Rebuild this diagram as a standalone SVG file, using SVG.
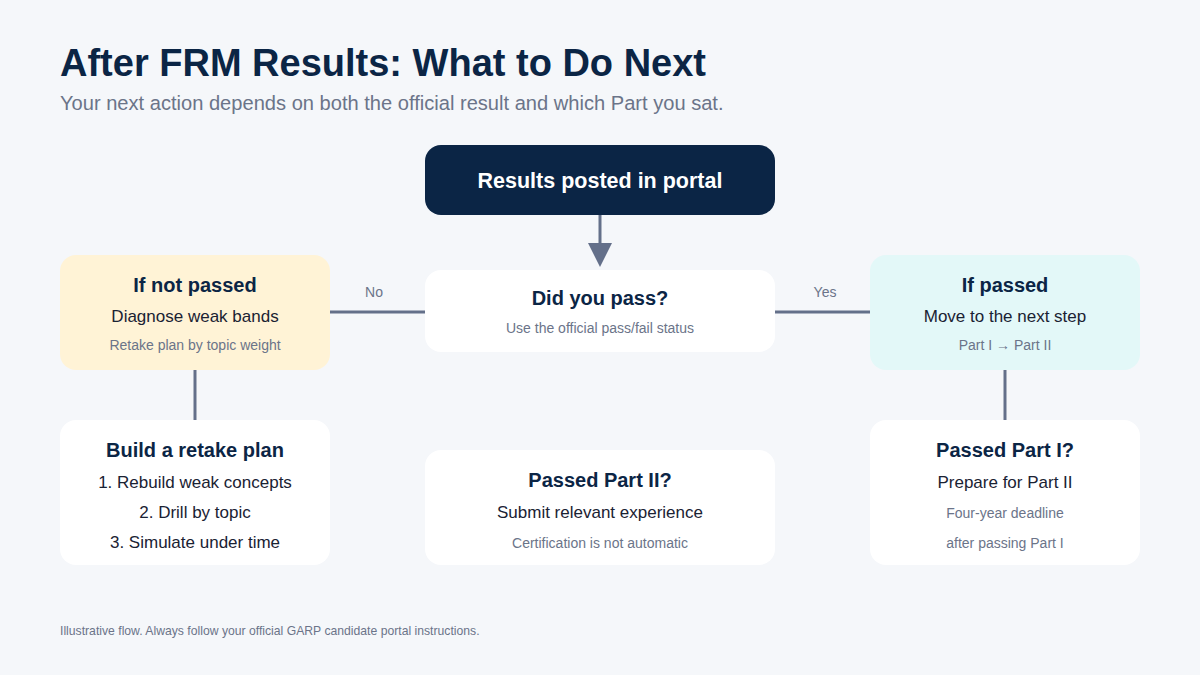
<svg xmlns="http://www.w3.org/2000/svg" width="1200" height="675" viewBox="0 0 1200 675">
<style>
text{font-family:"Liberation Sans",Arial,sans-serif;}
.t{font-size:38px;font-weight:bold;fill:#0B2545;}
.sub{font-size:20.1px;fill:#6B7489;}
.h{font-size:20px;font-weight:bold;fill:#0B2545;text-anchor:middle;}
.b{font-size:17px;fill:#1A2233;text-anchor:middle;}
.s{font-size:14px;fill:#6B7489;text-anchor:middle;}
.lbl{font-size:14px;fill:#6B7489;text-anchor:middle;}
.card{fill:#FFFFFF;}
.conn{stroke:#64708A;stroke-width:3;fill:none;}
.foot{font-size:12.2px;fill:#6B7489;}
</style>
<rect width="1200" height="675" fill="#F5F7FA"/>
<text class="t" x="60" y="76">After FRM Results: What to Do Next</text>
<text class="sub" x="60" y="110">Your next action depends on both the official result and which Part you sat.</text>
<g id="connectors">
<line class="conn" x1="600" y1="215" x2="600" y2="245"/>
<polygon points="588,243 612,243 600,267" fill="#64708A"/>
<line class="conn" x1="330" y1="312" x2="425" y2="312"/>
<text class="lbl" x="374" y="297">No</text>
<line class="conn" x1="775" y1="312" x2="870" y2="312"/>
<text class="lbl" x="825" y="297">Yes</text>
<line class="conn" x1="195" y1="370" x2="195" y2="420"/>
<line class="conn" x1="1005" y1="370" x2="1005" y2="420"/>
</g>
<g id="results">
<rect x="425" y="145" width="350" height="70" rx="16" fill="#0B2545"/>
<text x="600" y="188" font-size="21.5" font-weight="bold" fill="#FFFFFF" text-anchor="middle">Results posted in portal</text>
</g>
<g id="didpass">
<rect class="card" x="425" y="270" width="350" height="82" rx="16"/>
<text class="h" x="600" y="305">Did you pass?</text>
<text class="s" x="600" y="333">Use the official pass/fail status</text>
</g>
<g id="notpassed">
<rect x="60" y="255" width="270" height="115" rx="16" fill="#FFF3D6"/>
<text class="h" x="195" y="292">If not passed</text>
<text class="b" x="195" y="322">Diagnose weak bands</text>
<text class="s" x="195" y="350">Retake plan by topic weight</text>
</g>
<g id="passed">
<rect x="870" y="255" width="270" height="115" rx="16" fill="#E3F8F8"/>
<text class="h" x="1005" y="292">If passed</text>
<text class="b" x="1005" y="322">Move to the next step</text>
<text class="s" x="1005" y="350">Part I → Part II</text>
</g>
<g id="retake">
<rect class="card" x="60" y="420" width="270" height="145" rx="16"/>
<text class="h" x="195" y="457">Build a retake plan</text>
<text class="b" x="195" y="488">1. Rebuild weak concepts</text>
<text class="b" x="195" y="518">2. Drill by topic</text>
<text class="b" x="195" y="548">3. Simulate under time</text>
</g>
<g id="part2">
<rect class="card" x="425" y="450" width="350" height="115" rx="16"/>
<text class="h" x="600" y="487">Passed Part II?</text>
<text class="b" x="600" y="518">Submit relevant experience</text>
<text class="s" x="600" y="548">Certification is not automatic</text>
</g>
<g id="part1">
<rect class="card" x="870" y="420" width="270" height="145" rx="16"/>
<text class="h" x="1005" y="457">Passed Part I?</text>
<text class="b" x="1005" y="488">Prepare for Part II</text>
<text class="s" x="1005" y="518">Four-year deadline</text>
<text class="s" x="1005" y="548">after passing Part I</text>
</g>
<text class="foot" x="60" y="635">Illustrative flow. Always follow your official GARP candidate portal instructions.</text>
</svg>
